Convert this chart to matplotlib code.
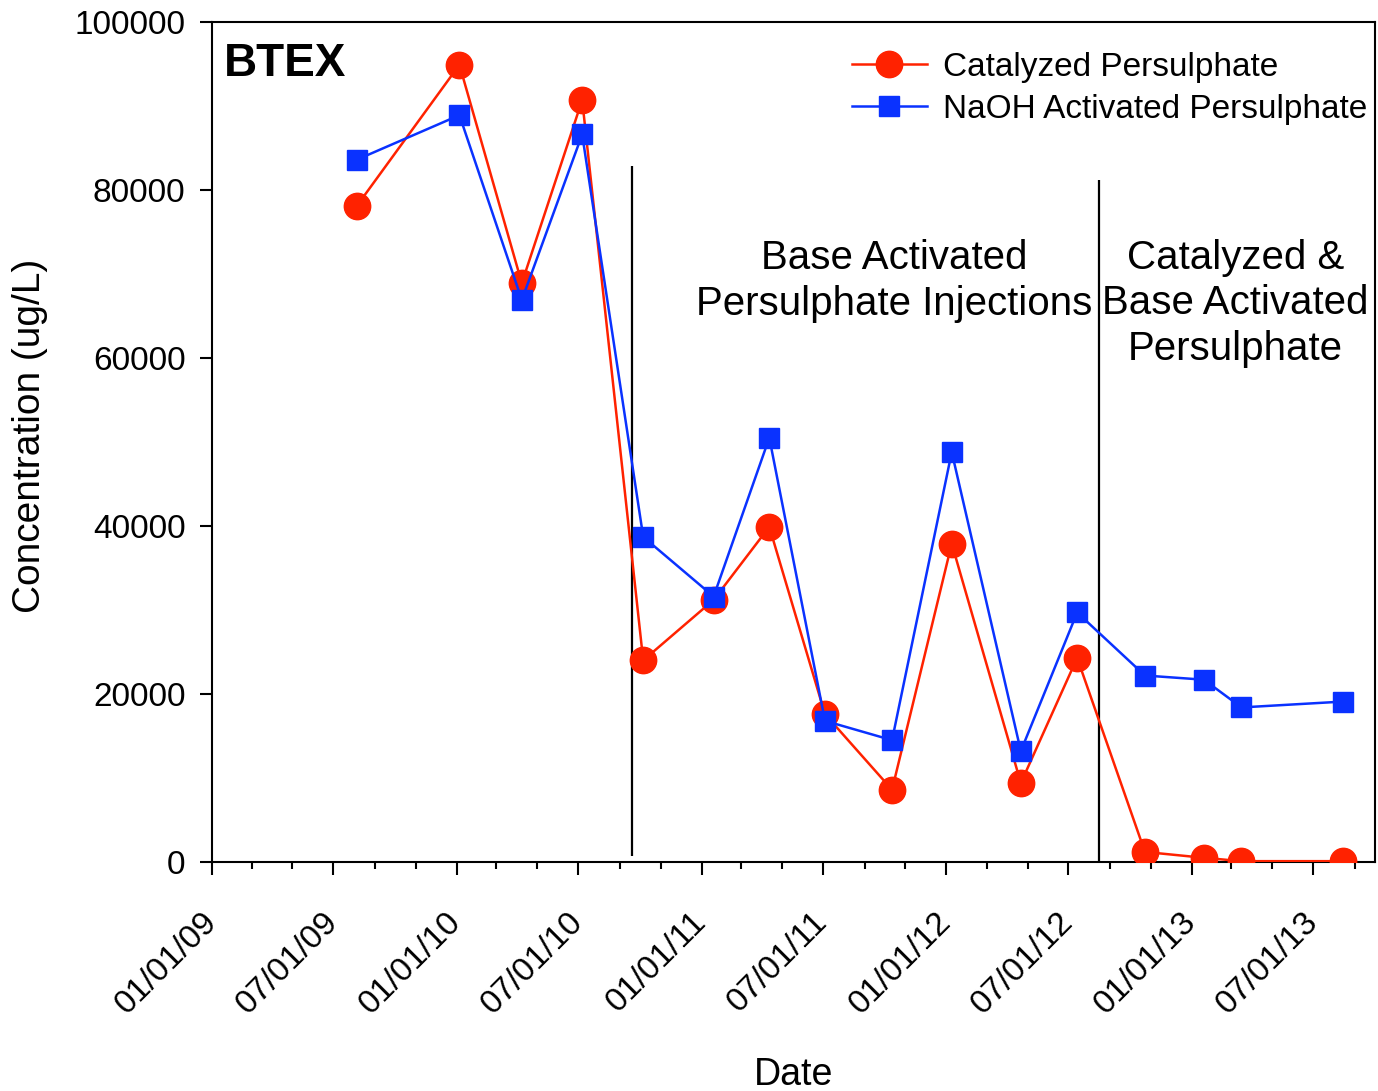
import numpy as np
import pandas as pd
import matplotlib
matplotlib.use("Agg")
import matplotlib.pyplot as plt
import matplotlib.dates as mdates

plt.rcParams['font.family'] = ['Liberation Sans', 'DejaVu Sans']

# sampling dates
dates = pd.to_datetime(['2009-08-05', '2010-01-05', '2010-04-08', '2010-07-07',
                        '2010-10-06', '2011-01-19', '2011-04-12', '2011-07-04',
                        '2011-10-12', '2012-01-09', '2012-04-21', '2012-07-14',
                        '2012-10-23', '2013-01-19', '2013-03-16', '2013-08-15'])
catalyzed = [78100, 94900, 68900, 90700, 24000, 31200, 39900, 17600,
             8600, 37900, 9400, 24300, 1200, 500, 100, 100]
naoh = [83600, 88900, 66900, 86600, 38700, 31600, 50500, 16800,
        14500, 48800, 13200, 29700, 22200, 21700, 18400, 19100]

phase_dates = pd.to_datetime(['2010-09-20', '2012-08-15'])
phase_bottom = [700, 0]
phase_top = [82800, 81200]

fig = plt.figure(figsize=(13.78, 10.91), dpi=100)
ax = fig.add_axes([0.1538, 0.2099, 0.844, 0.770])

ax.plot(dates, catalyzed, color='#ff2200', lw=1.8, marker='o', ms=19,
        label='Catalyzed Persulphate', zorder=3)
ax.plot(dates, naoh, color='#0a32ff', lw=1.8, marker='s', ms=14.5,
        label='NaOH Activated Persulphate', zorder=4)

ax.vlines(phase_dates, phase_bottom, phase_top, color='black', lw=1.6, zorder=2)

ax.set_xlim(pd.Timestamp('2009-01-01'), pd.Timestamp('2013-10-01'))
ax.set_ylim(0, 100000)
ax.set_yticks(np.arange(0, 100001, 20000))

ax.xaxis.set_major_locator(mdates.MonthLocator(bymonth=[1, 7]))
ax.xaxis.set_minor_locator(mdates.MonthLocator(bymonth=[3, 5, 9, 11]))
ax.xaxis.set_major_formatter(mdates.DateFormatter('%m/%d/%y'))

ax.tick_params(axis='y', which='major', direction='out', length=9, width=1.5,
               labelsize=24, pad=10, right=False)
ax.tick_params(axis='x', which='major', direction='out', length=9, width=1.5,
               labelsize=24, pad=31, top=False)
ax.tick_params(axis='x', which='minor', direction='out', length=5, width=1.5)
for lab in ax.get_xticklabels():
    lab.set_rotation(45)
    lab.set_ha('right')
    lab.set_va('center')
    lab.set_rotation_mode('anchor')
for sp in ax.spines.values():
    sp.set_linewidth(1.5)

ax.set_xlabel('Date', fontsize=27, va='top')
ax.xaxis.set_label_coords(0.5, -0.232)
ax.set_ylabel('Concentration (ug/L)', fontsize=28)
ax.yaxis.set_label_coords(-0.141, 0.507)

ax.text(0.01, 0.95, 'BTEX', transform=ax.transAxes, fontsize=33,
        fontweight='bold', ha='left', va='center')
ax.text(pd.Timestamp('2011-10-15'), 69200, 'Base Activated\nPersulphate Injections',
        fontsize=29, ha='center', va='center', linespacing=1.26)
ax.text(pd.Timestamp('2013-03-07'), 66500, 'Catalyzed &\nBase Activated\nPersulphate',
        fontsize=29, ha='center', va='center', linespacing=1.26)

ax.legend(loc='upper right', frameon=False, fontsize=24, handlelength=2.25,
          borderaxespad=0.0, labelspacing=0.32, handletextpad=0.5,
          bbox_to_anchor=(1.005, 0.98))

fig.savefig('out.png', dpi=100)
